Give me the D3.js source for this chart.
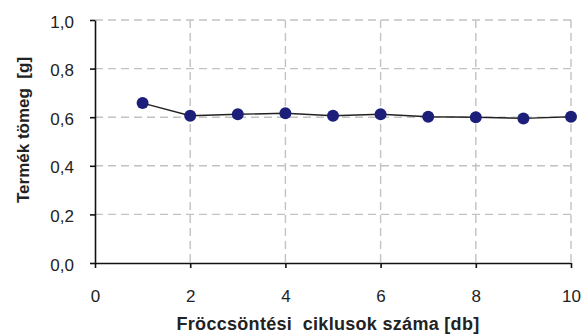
<!DOCTYPE html>
<html>
<head>
<meta charset="utf-8">
<script src="https://cdn.jsdelivr.net/npm/d3@7"></script>
<style>
  body { margin: 0; background: #fff; }
  text { font-family: "Liberation Sans", Arial, sans-serif; fill: #222; white-space: pre; }
</style>
</head>
<body>
<figure id="chart" style="margin:0"></figure>
<script>
// data
var cycles = [1, 2, 3, 4, 5, 6, 7, 8, 9, 10];
var mass = [0.658, 0.606, 0.612, 0.616, 0.606, 0.612, 0.602, 0.600, 0.595, 0.602];
var xTicks = [0, 2, 4, 6, 8, 10];
var yTicks = [0, 0.2, 0.4, 0.6, 0.8, 1.0];

var margin = {top: 20, right: 11, bottom: 72, left: 95},
  width = 582 - margin.left - margin.right,
  height = 335 - margin.top - margin.bottom;

var svg = d3.select("figure#chart")
  .append("svg")
    .attr("width", width + margin.left + margin.right)
    .attr("height", height + margin.top + margin.bottom)
  .append("g")
    .attr("transform", "translate(" + margin.left + "," + margin.top + ")");

var x = d3.scaleLinear().domain([0, 10]).range([0, width]);
var y = d3.scaleLinear().domain([0, 1]).range([height, 0]);

var fmt = function(d) { return d3.format(".1f")(d).replace(".", ","); };

// grid
svg.append("g")
  .selectAll("line.h")
  .data(yTicks.filter(function(d) { return d > 0; }))
  .enter().append("line")
    .attr("x1", 0).attr("x2", width)
    .attr("y1", function(d) { return y(d); })
    .attr("y2", function(d) { return y(d); })
    .attr("stroke", "#c2c2c2").attr("stroke-width", 1.4)
    .attr("stroke-dasharray", "8,5");
svg.append("g")
  .selectAll("line.v")
  .data(xTicks.filter(function(d) { return d > 0; }))
  .enter().append("line")
    .attr("y1", 0).attr("y2", height)
    .attr("x1", function(d) { return x(d); })
    .attr("x2", function(d) { return x(d); })
    .attr("stroke", "#c2c2c2").attr("stroke-width", 1.4)
    .attr("stroke-dasharray", "8,5");

// axes
var xAxis = svg.append("g")
  .attr("transform", "translate(0," + height + ")")
  .call(d3.axisBottom(x).tickValues(xTicks).tickSize(5).tickSizeOuter(0).tickFormat(d3.format("d")));
xAxis.selectAll("text").attr("y", 27).style("font-size", "17px");

var yAxis = svg.append("g")
  .call(d3.axisLeft(y).tickValues(yTicks).tickSize(5).tickSizeOuter(0).tickFormat(fmt));
yAxis.selectAll("text").attr("x", -21).attr("dy", "0.42em").style("font-size", "17px");

svg.selectAll(".domain, .tick line").attr("stroke", "#111").attr("stroke-width", 1.6);
svg.selectAll(".tick text").style("fill", "#222");

// line and markers
var line = d3.line()
  .x(function(d, i) { return x(cycles[i]); })
  .y(function(d) { return y(d); });
svg.append("path")
  .datum(mass)
  .attr("d", line)
  .attr("fill", "none")
  .attr("stroke", "#222")
  .attr("stroke-width", 1.4);

svg.append("g")
  .selectAll("circle")
  .data(mass)
  .enter().append("circle")
    .attr("cx", function(d, i) { return x(cycles[i]); })
    .attr("cy", function(d) { return y(d); })
    .attr("r", 6)
    .attr("fill", "#1c1f7a");

// titles
svg.append("text")
  .attr("x", 328 - margin.left)
  .attr("y", 330 - margin.top)
  .attr("text-anchor", "middle")
  .style("font-size", "18px")
  .style("font-weight", "bold")
  .style("letter-spacing", "0.3px")
  .text("Fröccsöntési  ciklusok száma [db]");

svg.append("text")
  .attr("transform", "translate(" + (29 - margin.left) + "," + (130 - margin.top) + ") rotate(-90)")
  .attr("text-anchor", "middle")
  .style("font-size", "17px")
  .style("font-weight", "bold")
  .text("Termék tömeg  [g]");
</script>
</body>
</html>
